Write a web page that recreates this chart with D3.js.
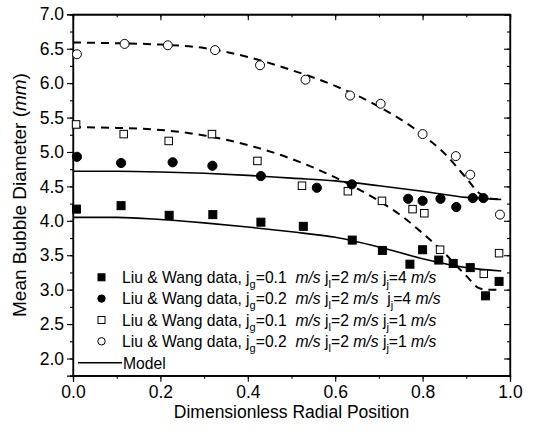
<!DOCTYPE html>
<html><head><meta charset="utf-8">
<script src="https://cdn.jsdelivr.net/npm/d3@7"></script>
<style>body{margin:0;background:#fff}svg{display:block}text{font-family:"Liberation Sans",Arial,sans-serif}.lt{white-space:pre}</style>
</head><body>
<svg id="c" width="536" height="436"></svg>
<script>
// ---- data ----
const sqFilledX = [0.008,0.11,0.22,0.32,0.43,0.527,0.639,0.708,0.771,0.80,0.837,0.87,0.909,0.944,0.975];
const sqFilledY = [4.17,4.22,4.08,4.09,3.98,3.92,3.72,3.57,3.37,3.58,3.43,3.38,3.32,2.91,3.12];
const ciFilledX = [0.009,0.11,0.228,0.319,0.43,0.558,0.638,0.767,0.80,0.841,0.877,0.915,0.939];
const ciFilledY = [4.93,4.84,4.85,4.80,4.65,4.48,4.53,4.32,4.29,4.32,4.20,4.33,4.33];
const sqOpenX = [0.007,0.116,0.219,0.318,0.422,0.524,0.629,0.707,0.777,0.804,0.84,0.94,0.975];
const sqOpenY = [5.40,5.26,5.16,5.26,4.87,4.51,4.43,4.29,4.17,4.11,3.58,3.23,3.53];
const ciOpenX = [0.009,0.118,0.217,0.325,0.428,0.532,0.634,0.704,0.80,0.876,0.909,0.977];
const ciOpenY = [6.42,6.57,6.55,6.48,6.26,6.05,5.82,5.70,5.26,4.94,4.67,4.09];
// model curves
const modelX = [0,0.1,0.2,0.3,0.4,0.5,0.6,0.7,0.8,0.9,0.98];
const modelSolidHigh = [4.72,4.72,4.71,4.69,4.66,4.62,4.58,4.51,4.43,4.34,4.31];
const modelSolidLow = [4.05,4.05,4.02,3.97,3.91,3.84,3.76,3.62,3.45,3.32,3.27];
const modelDashX = [0,0.1,0.2,0.3,0.4,0.5,0.6,0.7,0.8,0.85,0.9,0.93,0.95,0.98];
const modelDashHigh = [6.59,6.58,6.56,6.51,6.38,6.19,5.96,5.66,5.25,4.98,4.62,4.40,4.33,4.31];
const modelDashLowX = [0,0.1,0.2,0.3,0.4,0.5,0.6,0.7,0.75,0.8,0.85,0.9,0.93,0.95,0.98];
const modelDashLow = [5.36,5.35,5.32,5.24,5.10,4.90,4.63,4.29,4.08,3.82,3.53,3.20,3.02,3.00,3.00];
const xTicks = [0,0.2,0.4,0.6,0.8,1.0];
const yTicks = [2.0,2.5,3.0,3.5,4.0,4.5,5.0,5.5,6.0,6.5,7.0];
const legendRows = [
  {sym:"sqF", g:"0.1", gap1:"  ", gap2:" ", j:"4"},
  {sym:"ciF", g:"0.2", gap1:"  ", gap2:"  ", j:"4"},
  {sym:"sqO", g:"0.1", gap1:"  ", gap2:" ", j:"1"},
  {sym:"ciO", g:"0.2", gap1:"  ", gap2:" ", j:"1"}
];

// ---- layout ----
const L=73, R=510, T=14.3, B=375.7;
const x = d3.scaleLinear().domain([0,1]).range([L,R]);
const y = d3.scaleLinear().domain([1.75,7.0]).range([B,T]);
const svg = d3.select("#c");

// axes
const fmt = d3.format(".1f");
svg.append("g").attr("transform",`translate(0,${B})`)
  .call(d3.axisBottom(x).tickValues(d3.range(0,1.0001,0.1)).tickSize(3).tickFormat(""));
svg.append("g").attr("transform",`translate(0,${B})`)
  .call(d3.axisBottom(x).tickValues(xTicks).tickSize(6).tickPadding(4).tickFormat(fmt));
svg.append("g").attr("transform",`translate(${L},0)`)
  .call(d3.axisLeft(y).tickValues(d3.range(1.75,7.001,0.25)).tickSize(3).tickFormat(""));
svg.append("g").attr("transform",`translate(${L},0)`)
  .call(d3.axisLeft(y).tickValues(yTicks).tickSize(6).tickPadding(3).tickFormat(fmt));
svg.append("g").attr("transform",`translate(0,${T})`)
  .call(d3.axisBottom(x).tickValues(d3.range(0,1.0001,0.1)).tickSize(3).tickFormat(""));
svg.append("g").attr("transform",`translate(0,${T})`)
  .call(d3.axisBottom(x).tickValues(xTicks).tickSize(6).tickFormat(""));
svg.append("g").attr("transform",`translate(${R},0)`)
  .call(d3.axisLeft(y).tickValues(d3.range(1.75,7.001,0.25)).tickSize(3).tickFormat(""));
svg.append("g").attr("transform",`translate(${R},0)`)
  .call(d3.axisLeft(y).tickValues(yTicks).tickSize(6).tickFormat(""));
svg.selectAll(".domain").attr("stroke","#000").attr("stroke-width",1.2);
svg.selectAll(".tick line").attr("stroke","#000").attr("stroke-width",1.1);
svg.selectAll(".tick text").attr("font-size",17.5).attr("fill","#000").attr("font-family","Liberation Sans, Arial, sans-serif");
// frame
svg.append("rect").attr("x",L).attr("y",T).attr("width",R-L).attr("height",B-T)
  .attr("fill","none").attr("stroke","#000").attr("stroke-width",1.2);

// titles
svg.append("text").attr("x",(L+R)/2).attr("y",418).attr("text-anchor","middle")
  .attr("font-size",17.5).text("Dimensionless Radial Position");
const yt = svg.append("text").attr("transform",`translate(26,${(T+B)/2}) rotate(-90)`)
  .attr("text-anchor","middle").attr("font-size",19);
yt.append("tspan").text("Mean Bubble Diameter (");
yt.append("tspan").attr("font-style","italic").text("mm");
yt.append("tspan").text(")");

// model lines
const line = (xs)=> d3.line().x((d,i)=>x(xs[i])).y(d=>y(d)).curve(d3.curveMonotoneX);
const g = svg.append("g");
g.append("path").attr("d",line(modelX)(modelSolidHigh)).attr("fill","none").attr("stroke","#000").attr("stroke-width",1.6);
g.append("path").attr("d",line(modelX)(modelSolidLow)).attr("fill","none").attr("stroke","#000").attr("stroke-width",1.6);
g.append("path").attr("d",line(modelDashX)(modelDashHigh)).attr("fill","none").attr("stroke","#000").attr("stroke-width",2).attr("stroke-dasharray","8,6");
g.append("path").attr("d",line(modelDashLowX)(modelDashLow)).attr("fill","none").attr("stroke","#000").attr("stroke-width",2).attr("stroke-dasharray","8,6");

// markers
function squares(xs,ys,filled,s){
  g.selectAll(null).data(ys).enter().append("rect")
    .attr("x",(d,i)=>x(xs[i])-s/2).attr("y",d=>y(d)-s/2).attr("width",s).attr("height",s)
    .attr("fill",filled?"#000":"#fff").attr("stroke","#000").attr("stroke-width",1);
}
function circles(xs,ys,filled,r){
  g.selectAll(null).data(ys).enter().append("circle")
    .attr("cx",(d,i)=>x(xs[i])).attr("cy",d=>y(d)).attr("r",r)
    .attr("fill",filled?"#000":"#fff").attr("stroke","#000").attr("stroke-width",1);
}
squares(sqOpenX,sqOpenY,false,7.5);
circles(ciOpenX,ciOpenY,false,4.5);
squares(sqFilledX,sqFilledY,true,8);
circles(ciFilledX,ciFilledY,true,4.6);

// legend
const lg = svg.append("g");
const rowY = [277.3,298.6,320,341.3];
const fs = 15.7, sfs = 11;
legendRows.forEach((r,i)=>{
  const cy=rowY[i], cx=101.5;
  if(r.sym==="sqF"||r.sym==="sqO"){
    lg.append("rect").attr("x",cx-3.5).attr("y",cy-3.5).attr("width",7).attr("height",7)
      .attr("fill",r.sym==="sqF"?"#000":"#fff").attr("stroke","#000");
  } else {
    lg.append("circle").attr("cx",cx).attr("cy",cy).attr("r",3.7)
      .attr("fill",r.sym==="ciF"?"#000":"#fff").attr("stroke","#000");
  }
  const t = lg.append("text").attr("class","lt").attr("x",122).attr("y",cy+5.5).attr("font-size",fs);
  t.append("tspan").text("Liu & Wang data, j");
  t.append("tspan").attr("font-size",sfs).attr("dy",5).text("g");
  t.append("tspan").attr("dy",-5).text("="+r.g+r.gap1);
  t.append("tspan").attr("font-style","italic").text("m/s");
  t.append("tspan").text(" j");
  t.append("tspan").attr("font-size",sfs).attr("dy",5).text("l");
  t.append("tspan").attr("dy",-5).text("=2 ");
  t.append("tspan").attr("font-style","italic").text("m/s");
  t.append("tspan").text(r.gap2+"j");
  t.append("tspan").attr("font-size",sfs).attr("dy",5).text("j");
  t.append("tspan").attr("dy",-5).text("="+r.j+" ");
  t.append("tspan").attr("font-style","italic").text("m/s");
});
lg.append("line").attr("x1",78).attr("x2",122).attr("y1",362.7).attr("y2",362.7).attr("stroke","#000").attr("stroke-width",1.6);
lg.append("text").attr("x",123).attr("y",368.5).attr("font-size",fs).text("Model");
</script>
</body></html>
